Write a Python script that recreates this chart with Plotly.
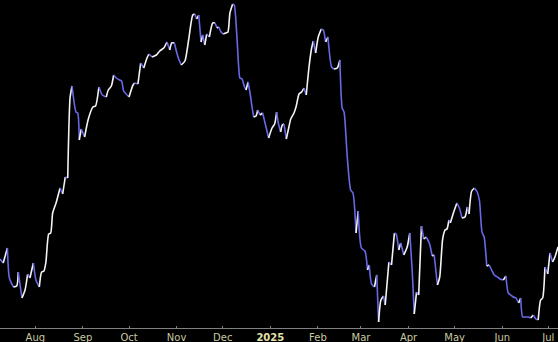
import pandas as pd
import plotly.graph_objects as go

# Days elapsed since 2024-07-09 (sampled turning points) and closing values
day_offsets = [
    0.0, 2.1, 4.8, 6.1, 8.7, 10.9, 11.9, 14.3, 16.3, 18.0, 19.5, 21.7, 23.4, 25.6, 27.1, 28.6,
    29.9, 31.7, 33.0, 34.3, 36.5, 39.1, 40.8, 42.5, 44.1, 45.6, 46.9, 49.5, 50.6, 51.6, 52.9, 55.1,
    57.5, 60.5, 62.2, 64.4, 66.6, 69.2, 70.5, 72.5, 74.0, 75.7, 77.9, 79.2, 80.5, 84.0, 86.6, 87.7,
    89.8, 91.6, 93.6, 95.7, 97.0, 99.0, 101.8, 104.0, 106.6, 108.7, 110.5, 111.8, 113.5, 115.9, 118.0, 120.4,
    122.8, 125.5, 126.8, 128.1, 129.4, 130.9, 132.0, 133.3, 134.6, 136.3, 138.5, 140.0, 141.3, 142.4, 143.9, 145.4,
    147.1, 148.4, 149.7, 151.5, 152.5, 154.1, 155.4, 156.2, 157.6, 159.0, 160.2, 161.5, 162.8, 164.1, 165.2, 166.7,
    167.8, 169.3, 171.0, 173.2, 174.9, 177.1, 178.8, 180.1, 181.2, 182.7, 183.8, 184.9, 186.4, 188.1, 189.3, 191.4,
    192.9, 194.7, 196.4, 197.9, 199.4, 201.2, 202.9, 204.0, 205.5, 207.2, 209.2, 210.5, 212.0, 213.5, 215.9, 217.4,
    219.6, 221.3, 222.8, 224.0, 226.1, 228.3, 229.8, 231.8, 233.2, 235.3, 237.6, 239.3, 240.4, 241.9, 243.8, 245.3,
    246.5, 248.0, 249.7, 250.8, 253.2, 254.9, 256.8, 257.9, 259.6, 260.9, 262.9, 265.1, 266.8, 268.4, 269.7, 271.2,
    272.6, 274.4, 275.9, 277.5, 279.5, 281.4, 282.7, 284.8, 286.3, 288.2, 289.8, 291.0, 292.3, 293.2, 295.4, 297.5,
    299.1, 300.8, 302.7, 304.3, 305.4, 307.1, 308.9, 310.7, 312.2, 313.8, 315.2, 316.9, 318.5, 320.1, 321.8, 323.8,
    325.5, 327.7, 329.4, 330.9, 332.5, 334.2, 335.9, 337.7, 339.0, 340.3, 341.8, 343.9, 345.5, 347.2, 348.9, 350.4,
    352.0, 353.3, 354.8, 356.6, 358.1, 359.8, 361.3, 363.3,
]
values = [
    27.1, 26.7, 28.2, 25.2, 24.3, 24.4, 25.8, 23.2, 24.0, 25.6, 25.2, 26.7, 25.0, 24.3, 25.8, 25.9,
    26.8, 29.6, 29.7, 31.7, 32.7, 34.2, 33.6, 35.3, 35.2, 43.2, 44.4, 41.8, 41.7, 39.0, 40.1, 39.3,
    41.1, 42.3, 42.4, 44.3, 43.5, 43.3, 44.0, 44.4, 45.5, 45.2, 45.0, 44.9, 43.9, 43.3, 44.5, 44.7,
    44.6, 46.7, 46.2, 47.2, 47.6, 47.3, 47.5, 47.9, 48.2, 48.8, 48.0, 48.7, 48.7, 47.3, 46.5, 46.9,
    49.0, 51.5, 51.6, 51.1, 51.5, 48.8, 49.5, 48.5, 49.6, 49.3, 50.7, 50.7, 50.2, 50.3, 49.8, 49.6,
    49.7, 49.8, 51.7, 52.6, 52.5, 49.7, 46.3, 45.2, 45.1, 44.4, 44.0, 44.8, 43.7, 42.3, 41.3, 41.4,
    42.0, 41.5, 41.7, 40.3, 39.2, 40.2, 40.6, 41.8, 40.7, 39.8, 40.5, 40.6, 39.1, 40.3, 41.1, 41.7,
    42.4, 43.6, 43.8, 44.2, 43.5, 46.3, 48.2, 48.9, 47.7, 49.3, 50.1, 50.0, 48.8, 49.3, 46.3, 46.1,
    46.2, 47.0, 42.2, 41.8, 37.3, 34.0, 33.7, 29.7, 31.9, 28.2, 27.9, 26.0, 26.5, 24.6, 24.3, 25.5,
    20.8, 23.0, 23.4, 22.5, 26.8, 26.5, 29.7, 29.6, 28.0, 28.7, 27.5, 28.3, 29.7, 25.9, 21.6, 23.8,
    23.5, 30.4, 29.1, 29.3, 28.7, 27.4, 27.5, 24.5, 25.3, 29.1, 30.0, 30.1, 31.0, 30.7, 31.8, 32.7,
    32.2, 31.2, 31.3, 32.3, 31.6, 33.9, 34.2, 33.8, 32.9, 29.8, 29.3, 26.4, 26.5, 26.0, 25.5, 25.3,
    25.1, 25.0, 25.4, 23.7, 23.5, 23.3, 23.2, 22.7, 23.2, 21.3, 21.3, 21.3, 21.2, 21.5, 21.1, 21.0,
    23.0, 23.2, 26.3, 25.6, 27.7, 26.8, 27.3, 28.3,
]
start_date = "2024-07-09"
tick_dates = ["2024-08-01", "2024-09-01", "2024-10-01", "2024-11-01", "2024-12-01", "2025-01-01",
              "2025-02-01", "2025-03-01", "2025-04-01", "2025-05-01", "2025-06-01", "2025-07-01"]
tick_labels = ["Aug", "Sep", "Oct", "Nov", "Dec", "2025", "Feb", "Mar", "Apr", "May", "Jun", "Jul"]

UP_COLOR = "#f4f4f4"
DOWN_COLOR = "#6868e8"
LABEL_COLOR = "#c8c8a0"
YEAR_COLOR = "#e4e4a8"

dates = pd.Timestamp(start_date) + pd.to_timedelta(day_offsets, unit="D")

# split into monotone runs: white when rising, blue when falling
runs = []
cur_dir = None
cur = [0]
for i in range(1, len(values)):
    d = values[i] - values[i - 1]
    direction = cur_dir if d == 0 and cur_dir is not None else (1 if d >= 0 else -1)
    if cur_dir is None or direction == cur_dir:
        cur.append(i)
    else:
        runs.append((cur_dir, cur))
        cur = [i - 1, i]
    cur_dir = direction
runs.append((cur_dir, cur))

fig = go.Figure()
for direction, idx in runs:
    fig.add_trace(go.Scatter(
        x=[dates[i] for i in idx],
        y=[values[i] for i in idx],
        mode="lines",
        line=dict(color=UP_COLOR if direction > 0 else DOWN_COLOR, width=1.6,
                  shape="spline", smoothing=0.6),
        hoverinfo="skip",
        showlegend=False,
    ))

ticktext = []
for lab in tick_labels:
    if lab.isdigit():
        ticktext.append(f'<span style="color:{YEAR_COLOR}"><b>{lab}</b></span>')
    else:
        ticktext.append(lab)

fig.update_layout(
    width=558, height=342,
    margin=dict(l=0, r=0, t=0, b=14),
    paper_bgcolor="black", plot_bgcolor="black",
    showlegend=False,
    xaxis=dict(
        range=[dates[0], dates[-1]],
        showgrid=False, zeroline=False,
        showline=True, linecolor="#808080", linewidth=1,
        ticks="inside", ticklen=2, tickcolor="#808080",
        tickvals=tick_dates, ticktext=ticktext,
        tickfont=dict(family="DejaVu Sans", size=10, color=LABEL_COLOR),
        automargin=False,
    ),
    yaxis=dict(visible=False, range=[20.2, 53.0], fixedrange=True),
)

fig.write_html("out.html")
